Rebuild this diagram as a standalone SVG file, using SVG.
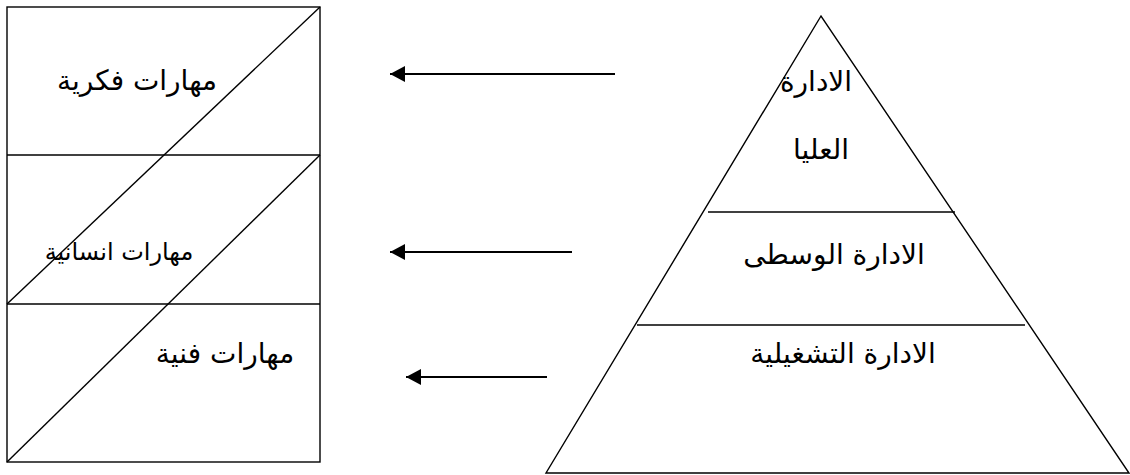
<svg xmlns="http://www.w3.org/2000/svg" width="1130" height="475" viewBox="0 0 1130 475">
<defs>
<style>
.ln{stroke:#000;stroke-width:1.4;fill:none}
.cn{stroke:#000;stroke-width:1.8;fill:none}
.t{font-family:"DejaVu Sans","Liberation Sans",sans-serif;fill:#000;text-anchor:middle;direction:rtl;font-size:28px}
</style>
<marker id="ah" viewBox="0 0 15 16" refX="15" refY="8" markerWidth="15" markerHeight="16" markerUnits="userSpaceOnUse" orient="auto">
<path d="M0,0 L15,8 L0,16 Z" fill="#000"/>
</marker>
</defs>
<rect width="1130" height="475" fill="#fff"/>
<g id="skills">
<rect class="ln" x="7" y="7" width="313" height="455"/>
<line class="ln" x1="7" y1="155" x2="320" y2="155"/>
<line class="ln" x1="7" y1="304" x2="320" y2="304"/>
<line class="ln" x1="320" y1="7" x2="7" y2="304"/>
<line class="ln" x1="320" y1="155" x2="7" y2="462"/>
</g>
<g id="skill-conceptual"><text class="t" x="137" y="90">مهارات فكرية</text></g>
<g id="skill-human"><text class="t" x="119" y="260" style="font-size:24px">مهارات انسانية</text></g>
<g id="skill-technical"><text class="t" x="225" y="363">مهارات فنية</text></g>
<g id="pyramid">
<polygon class="ln" points="821,16 546,473 1129,473"/>
<line class="ln" x1="708" y1="212" x2="955" y2="212"/>
<line class="ln" x1="637" y1="325" x2="1025" y2="325"/>
</g>
<g id="top-mgmt">
<text class="t" x="816" y="91">الادارة</text>
<text class="t" x="821" y="159">العليا</text>
</g>
<g id="middle-mgmt"><text class="t" x="834" y="264">الادارة الوسطى</text></g>
<g id="operational-mgmt"><text class="t" x="843" y="363">الادارة التشغيلية</text></g>
<g id="connectors">
<line class="cn" x1="615" y1="74" x2="390" y2="74" marker-end="url(#ah)"/>
<line class="cn" x1="572" y1="252" x2="390" y2="252" marker-end="url(#ah)"/>
<line class="cn" x1="547" y1="377" x2="406" y2="377" marker-end="url(#ah)"/>
</g>
</svg>
